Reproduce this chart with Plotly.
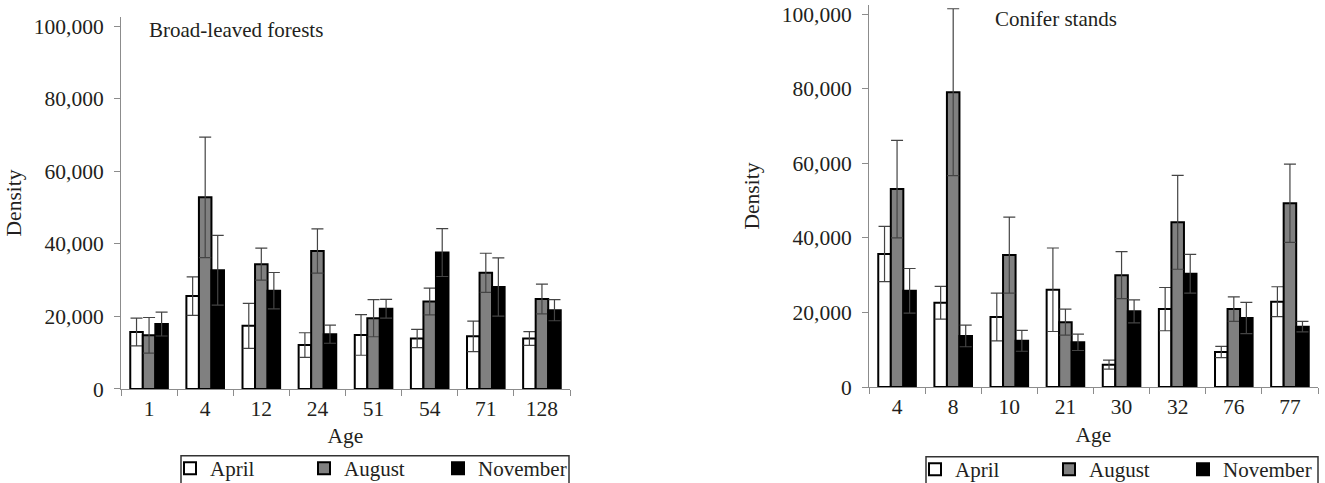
import plotly.graph_objects as go

# ---------------- data ----------------
ages_broad = ["1", "4", "12", "24", "51", "54", "71", "128"]
broad_april = [15700, 25600, 17400, 12100, 14900, 13900, 14500, 13900]
broad_april_err = [3800, 5300, 6200, 3400, 5600, 2500, 4200, 1900]
broad_august = [14800, 52800, 34400, 38000, 19500, 24100, 32000, 24800]
broad_august_err = [4900, 16600, 4400, 6100, 5100, 3700, 5400, 4100]
broad_november = [17900, 32700, 27100, 15100, 22100, 37600, 28100, 21700]
broad_november_err = [3300, 9600, 5000, 2500, 2600, 6600, 8000, 2900]

ages_conifer = ["4", "8", "10", "21", "30", "32", "76", "77"]
con_april = [35700, 22600, 18800, 26100, 6000, 20900, 9400, 22900]
con_april_err = [7400, 4400, 6400, 11200, 1200, 5800, 1500, 4000]
con_august = [53100, 79100, 35400, 17400, 30000, 44200, 20900, 49300]
con_august_err = [13100, 22400, 10200, 3500, 6300, 12600, 3300, 10500]
con_november = [25800, 13700, 12400, 12000, 20300, 30400, 18500, 16200]
con_november_err = [6000, 2900, 2800, 2200, 3100, 5200, 4200, 1400]

series_names = ["April", "August", "November"]
fill_colors = ["#ffffff", "#808080", "#000000"]

FONT = "Liberation Serif, Times New Roman, serif"
TXT = "#231f20"

fig = go.Figure()

def add_group(xcats, vals, errs, xa, ya, legend_id):
    for name, v, e, col in zip(series_names, vals, errs, fill_colors):
        fig.add_trace(go.Bar(
            x=xcats, y=v, name=name,
            marker=dict(color=col, line=dict(color="#000000", width=2)),
            error_y=dict(type="data", array=e, visible=True,
                         color="#444444", thickness=1.2, width=6),
            xaxis=xa, yaxis=ya, legend=legend_id,
        ))

add_group(ages_broad, [broad_april, broad_august, broad_november],
          [broad_april_err, broad_august_err, broad_november_err], "x", "y", "legend")
add_group(ages_conifer, [con_april, con_august, con_november],
          [con_april_err, con_august_err, con_november_err], "x2", "y2", "legend2")

W, H = 1325, 483
ML, MR, MT, MB = 121, 7, 3, 94
PW, PH = W - ML - MR, H - MT - MB

def px_x(px):
    return (px - ML) / PW

def px_y(py):
    return (H - MB - py) / PH

def cy(py):
    return 1 - py / H

TF = 21.5
axis_common = dict(showgrid=False, zeroline=False, showline=True, linecolor="#8c8c8c",
                   linewidth=1, ticks="outside", tickcolor="#8c8c8c", ticklen=6,
                   tickfont=dict(family=FONT, size=TF, color=TXT))

xa = dict(axis_common, tickson="boundaries",
          title=dict(text="Age", font=dict(family=FONT, size=TF, color=TXT), standoff=9))
ya = dict(axis_common, range=[0, 102500], tickvals=[0, 20000, 40000, 60000, 80000, 100000],
          tickformat=",d", ticklabelstandoff=6)

leg_common = dict(orientation="h", xanchor="left", yanchor="top", yref="container",
                  borderwidth=0, bgcolor="rgba(0,0,0,0)",
                  font=dict(family=FONT, size=21, color=TXT),
                  entrywidth=89, entrywidthmode="pixels", traceorder="normal")

fig.update_layout(
    width=W, height=H,
    margin=dict(l=ML, r=MR, t=MT, b=MB),
    paper_bgcolor="white", plot_bgcolor="white",
    barmode="group", bargap=0.33, bargroupgap=0,
    font=dict(family=FONT, size=20, color=TXT),
    xaxis=dict(xa, domain=[0, px_x(570)], anchor="y"),
    yaxis=dict(ya, domain=[0, px_y(15)], anchor="x",
               title=dict(text="Density", font=dict(family=FONT, size=TF, color=TXT), standoff=6)),
    xaxis2=dict(xa, domain=[px_x(869), 1], anchor="y2"),
    yaxis2=dict(ya, domain=[px_y(387), 1], anchor="x2",
                title=dict(text="Density", font=dict(family=FONT, size=TF, color=TXT), standoff=16)),
    legend=dict(leg_common, x=px_x(170), y=cy(448)),
    legend2=dict(leg_common, x=px_x(915), y=cy(449)),
    shapes=[
        dict(type="rect", xref="paper", yref="paper", x0=px_x(181), x1=px_x(569),
             y0=px_y(456), y1=px_y(495), line=dict(color="#333333", width=1.5),
             fillcolor="rgba(0,0,0,0)", layer="below"),
        dict(type="rect", xref="paper", yref="paper", x0=px_x(926), x1=px_x(1318),
             y0=px_y(457), y1=px_y(495), line=dict(color="#333333", width=1.5),
             fillcolor="rgba(0,0,0,0)", layer="below"),
    ],
    annotations=[
        dict(text="Broad-leaved forests", x=px_x(147), y=px_y(28), xref="paper", yref="paper",
             xanchor="left", yanchor="middle", showarrow=False,
             font=dict(family=FONT, size=21, color=TXT)),
        dict(text="Conifer stands", x=px_x(993), y=px_y(17), xref="paper", yref="paper",
             xanchor="left", yanchor="middle", showarrow=False,
             font=dict(family=FONT, size=21, color=TXT)),
    ],
)

fig.write_html("out.html")
